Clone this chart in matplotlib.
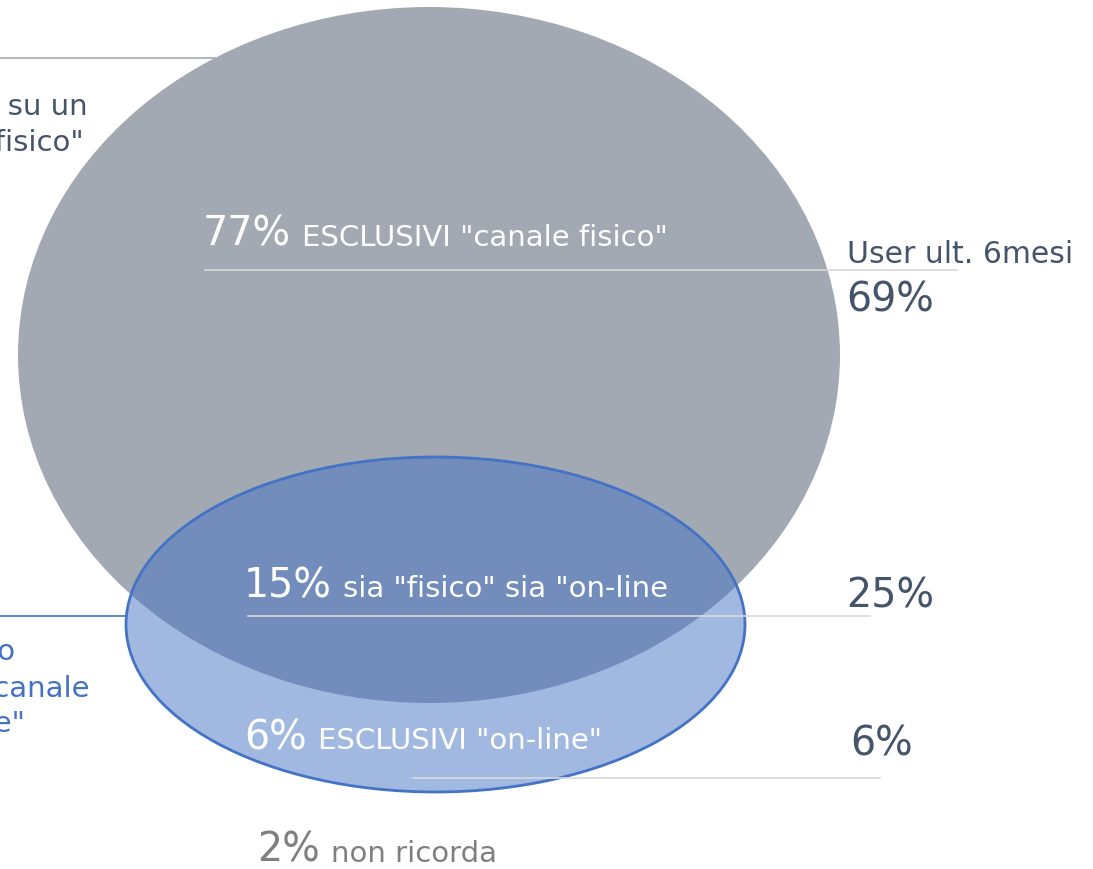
import matplotlib
matplotlib.use('Agg')
import matplotlib.pyplot as plt
from matplotlib.patches import Ellipse

plt.rcParams['font.family'] = ['DejaVu Sans']

# values inside the circles
inner_pct = ['77%', '15%', '6%']
inner_lbl = ['ESCLUSIVI "canale fisico"', 'sia "fisico" sia "on-line', 'ESCLUSIVI "on-line"']
# values on the right (user ult. 6 mesi)
right_title = 'User ult. 6mesi'
right_pct = ['69%', '25%', '6%']
# not remembered
other_pct = '2%'
other_lbl = 'non ricorda'
# side labels (clipped at the left edge)
fisico_lbl = ['Acquisti su un', '"canale fisico"']
online_lbl = ['Acquisto', 'su un canale', '"on-line"']

W, H = 1093, 869
fig = plt.figure(figsize=(W / 100, H / 100), dpi=100)
ax = fig.add_axes([0, 0, 1, 1])
ax.set_xlim(0, W)
ax.set_ylim(H, 0)
ax.axis('off')

grey = '#A2A9B3'
blue = '#4472C4'
dark = '#44546A'
rule = '#D9D9D9'

# big ellipse ("fisico") and small one ("on-line")
ax.add_patch(Ellipse((429, 355), 822, 696, facecolor=grey, edgecolor='none', zorder=1))
ax.add_patch(Ellipse((435.5, 624.5), 619, 335, facecolor=blue, alpha=0.5,
                     edgecolor='none', zorder=2))
ax.add_patch(Ellipse((435.5, 624.5), 619, 335, facecolor='none', edgecolor=blue,
                     lw=2, zorder=3))

# leader lines
ax.plot([0, 215], [58, 58], color=grey, lw=1.2, zorder=0)
ax.plot([0, 126], [616, 616], color=blue, lw=1.2, zorder=0)
ax.plot([205, 957], [270, 270], color=rule, lw=1.2, zorder=4)
ax.plot([248, 870], [616, 616], color=rule, lw=1.2, zorder=4)
ax.plot([413, 880], [778, 778], color=rule, lw=1.2, zorder=4)

renderer = fig.canvas.get_renderer()
inv = ax.transData.inverted()


def pair(x, y, big, small, color, bsize=28.5, ssize=21, gap=11):
    # big percentage followed by a smaller label on the same baseline
    t = ax.text(x, y, big, fontsize=bsize, color=color, va='baseline', zorder=5)
    bb = t.get_window_extent(renderer)
    x_end = inv.transform((bb.x1, bb.y0))[0]
    ax.text(x_end + gap, y, small, fontsize=ssize, color=color, va='baseline', zorder=5)


# inner texts
for p, l, x, y in zip(inner_pct, inner_lbl, [203, 244, 244], [246, 597, 749]):
    pair(x, y, p, l, 'white')

# right column
ax.text(847, 263, right_title, fontsize=21.5, color=dark, va='baseline')
for p, x, y in zip(right_pct, [846, 846, 850], [312, 607, 755]):
    ax.text(x, y, p, fontsize=28.5, color=dark, va='baseline')

# not remembered
pair(257, 862, other_pct, other_lbl, '#7F7F7F')

# side labels, right-aligned so they run off the left edge
for t, x, y in zip(fisico_lbl, [88, 84], [115, 151]):
    ax.text(x, y, t, fontsize=21, color=dark, ha='right', va='baseline')
for t, x, y in zip(online_lbl, [16, 90, 25], [660, 697, 732]):
    ax.text(x, y, t, fontsize=21, color=blue, ha='right', va='baseline')

fig.savefig('out.png', dpi=100)
